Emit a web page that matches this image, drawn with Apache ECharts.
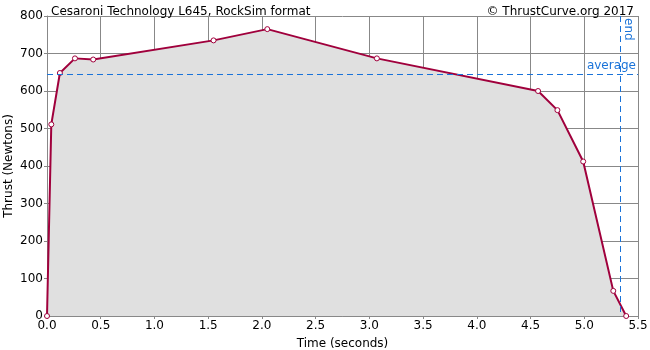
<!DOCTYPE html>
<html style="height: 100%">
<head>
<meta charset="utf-8">
</head>
<body style="height: 100%; margin: 0">
<div id="container" style="width: 650px; height: 350px"></div>
<script type="text/javascript" src="https://cdn.jsdelivr.net/npm/echarts@6/dist/echarts.min.js"></script>
<script type="text/javascript">
// thrust curve samples
var times = [0.0, 0.04, 0.12, 0.26, 0.43, 1.55, 2.05, 3.07, 4.57, 4.75, 4.99, 5.27, 5.39];
var thrust = [0, 511, 648, 687, 684, 735, 765, 687, 600, 549, 412, 67, 0];
var averageThrust = 645;
var burnEnd = 5.337;

var dom = document.getElementById('container');
var myChart = echarts.init(dom);
var font = 'DejaVu Sans';
var gridColor = '#888888';
var blue = '#1a73d9';
var dashed = { color: blue, type: [6, 4], width: 1 };

var option = {
    animation: false,
    textStyle: { fontFamily: font },
    title: [
        {
            text: 'Cesaroni Technology L645, RockSim format',
            left: 46, top: 1,
            textStyle: { fontFamily: font, fontSize: 12, fontWeight: 'normal', color: '#000' }
        },
        {
            text: '© ThrustCurve.org 2017',
            right: 11, top: 1,
            textStyle: { fontFamily: font, fontSize: 12, fontWeight: 'normal', color: '#000' }
        }
    ],
    grid: { left: 47, right: 12, top: 16, bottom: 34, outerBoundsMode: 'none', containLabel: false },
    xAxis: {
        type: 'value',
        min: 0, max: 5.5, interval: 0.5,
        name: 'Time (seconds)',
        nameLocation: 'middle',
        nameGap: 22,
        nameMoveOverlap: false,
        nameTextStyle: { fontFamily: font, fontSize: 12, color: '#000' },
        axisLine: { lineStyle: { color: gridColor } },
        axisTick: { show: true, length: 3, lineStyle: { color: gridColor } },
        axisLabel: {
            fontFamily: font, fontSize: 12, color: '#000', margin: 4,
            formatter: function (v) { return v.toFixed(1); }
        },
        splitLine: { show: true, lineStyle: { color: gridColor, width: 1 } }
    },
    yAxis: {
        type: 'value',
        min: 0, max: 800, interval: 100,
        name: 'Thrust (Newtons)',
        nameLocation: 'middle',
        nameGap: 32,
        nameMoveOverlap: false,
        nameTextStyle: { fontFamily: font, fontSize: 12, color: '#000' },
        axisLine: { show: true, lineStyle: { color: gridColor } },
        axisTick: { show: true, length: 3, lineStyle: { color: gridColor } },
        axisLabel: { fontFamily: font, fontSize: 12, color: '#000', margin: 4 },
        splitLine: { show: true, lineStyle: { color: gridColor, width: 1 } }
    },
    series: [
        {
            type: 'line',
            data: times.map(function (t, i) { return [t, thrust[i]]; }),
            symbol: 'circle',
            symbolSize: 5,
            showAllSymbol: true,
            itemStyle: { color: '#ffffff', borderColor: '#a0003c', borderWidth: 1 },
            lineStyle: { color: '#a0003c', width: 2 },
            areaStyle: { color: '#e0e0e0', opacity: 1 },
            z: 3,
            markLine: {
                silent: true,
                symbol: 'none',
                lineStyle: dashed,
                data: [
                    {
                        yAxis: averageThrust,
                        lineStyle: dashed,
                        label: {
                            show: true, position: 'insideEndTop', formatter: 'average',
                            color: blue, fontFamily: font, fontSize: 12, distance: 2
                        }
                    },
                    [
                        { coord: [burnEnd, 800], lineStyle: dashed },
                        {
                            coord: [burnEnd, 0],
                            lineStyle: dashed,
                            label: {
                                show: true, position: 'insideStartTop', formatter: 'end',
                                color: blue, fontFamily: font, fontSize: 12, distance: 2
                            }
                        }
                    ]
                ]
            }
        }
    ]
};

myChart.setOption(option);
</script>
</body>
</html>
